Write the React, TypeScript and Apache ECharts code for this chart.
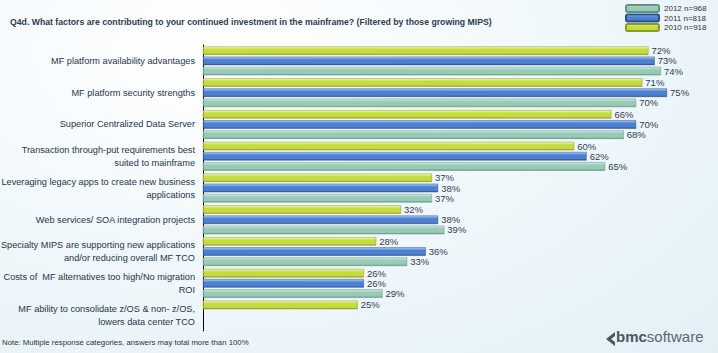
import React, { useEffect, useRef } from "react";
import * as echarts from "echarts";

const categories = [
  "MF platform availability advantages",
  "MF platform security strengths",
  "Superior Centralized Data Server",
  "Transaction through-put requirements best\nsuited to mainframe",
  "Leveraging legacy apps to create new business\napplications",
  "Web services/ SOA integration projects",
  "Specialty MIPS are supporting new applications\nand/or reducing overall MF TCO",
  "Costs of  MF alternatives too high/No migration\nROI",
  "MF ability to consolidate z/OS & non- z/OS,\nlowers data center TCO",
];
const seriesNames = ["2010 n=918", "2011 n=818", "2012 n=968"];
const v2010 = [72, 71, 66, 60, 37, 32, 28, 26, 25];
const v2011 = [73, 75, 70, 62, 38, 38, 36, 26, null];
const v2012 = [74, 70, 68, 65, 37, 39, 33, 29, null];
const legendOrder = ["2012 n=968", "2011 n=818", "2010 n=918"];

const FONT = "'Liberation Sans', Arial, sans-serif";

function grad(light: string, mid: string, dark: string) {
  return new echarts.graphic.LinearGradient(0, 0, 0, 1, [
    { offset: 0, color: light },
    { offset: 0.35, color: mid },
    { offset: 0.8, color: mid },
    { offset: 1, color: dark },
  ]);
}

export default function App() {
  const ref = useRef<HTMLDivElement>(null);
  useEffect(() => {
    if (!ref.current) return;
    const chart = echarts.init(ref.current, undefined, { renderer: "svg" });
    const colors = [
      grad("#f2f9c0", "#c5dc3c", "#8fa02a"),
      grad("#b4cff2", "#4c80d2", "#2c5696"),
      grad("#d3ece2", "#96ccb6", "#6a9886"),
    ];
    const edge = ["#8a9a28", "#2a5290", "#66927f"];
    const data = [v2010, v2011, v2012];
    const label = {
      show: true,
      position: "right" as const,
      distance: 3,
      formatter: "{c}%",
      color: "#2f3d52",
      fontSize: 9.5,
      fontFamily: FONT,
    };
    chart.setOption({
      animation: false,
      backgroundColor: "transparent",
      title: {
        text: "Q4d. What factors are contributing to your continued investment in the mainframe? (Filtered by those growing MIPS)",
        left: 5,
        top: 12,
        textStyle: { fontSize: 8.7, fontWeight: "bold", color: "#2b3c50", fontFamily: FONT },
      },
      legend: {
        data: legendOrder,
        orient: "vertical",
        left: 620,
        top: -1,
        itemWidth: 33,
        itemHeight: 7,
        itemGap: 0.5,
        textStyle: { fontSize: 8, color: "#333", fontFamily: FONT },
      },
      grid: { left: 203, top: 45, height: 286, right: 20, outerBoundsMode: "none", containLabel: false },
      xAxis: { type: "value", min: 0, max: 80, show: false },
      yAxis: {
        type: "category",
        inverse: true,
        data: categories,
        axisLine: { show: true, lineStyle: { color: "#000", width: 1 } },
        axisTick: { show: false },
        axisLabel: {
          color: "#26354a",
          fontSize: 9.2,
          lineHeight: 13,
          margin: 8,
          fontFamily: FONT,
          align: "right",
        },
      },
      series: seriesNames.map((name, i) => ({
        name,
        type: "bar",
        data: data[i],
        barWidth: 8.5,
        barGap: "20%",
        itemStyle: { color: colors[i], borderColor: edge[i], borderWidth: 0.5 },
        label,
      })),
      graphic: [
        {
          type: "text",
          left: 2,
          top: 338,
          style: {
            text: "Note: Multiple response categories, answers may total more than 100%",
            fontSize: 7.8,
            fill: "#333",
            fontFamily: FONT,
          },
        },
        {
          type: "polygon",
          shape: { points: [[606, 339], [615, 332], [615, 336], [611, 339], [615, 342], [615, 346]] },
          style: { fill: "#4a5866" },
        },
        {
          type: "text",
          left: 616,
          top: 329,
          style: {
            text: "{b|bmc}{s|software}",
            rich: {
              b: { fontSize: 15, fontWeight: "bold", fill: "#4a5866", fontFamily: FONT },
              s: { fontSize: 15, fill: "#5a6876", fontFamily: FONT },
            },
          },
        },
      ],
    });
    return () => chart.dispose();
  }, []);
  return (
    <div
      ref={ref}
      style={{
        position: "absolute",
        left: 0,
        top: 0,
        width: 718,
        height: 353,
        background:
          "radial-gradient(ellipse at 30% 15%, #ffffff 0%, #f3f9fc 40%, #e2f0f6 100%)",
      }}
    />
  );
}
